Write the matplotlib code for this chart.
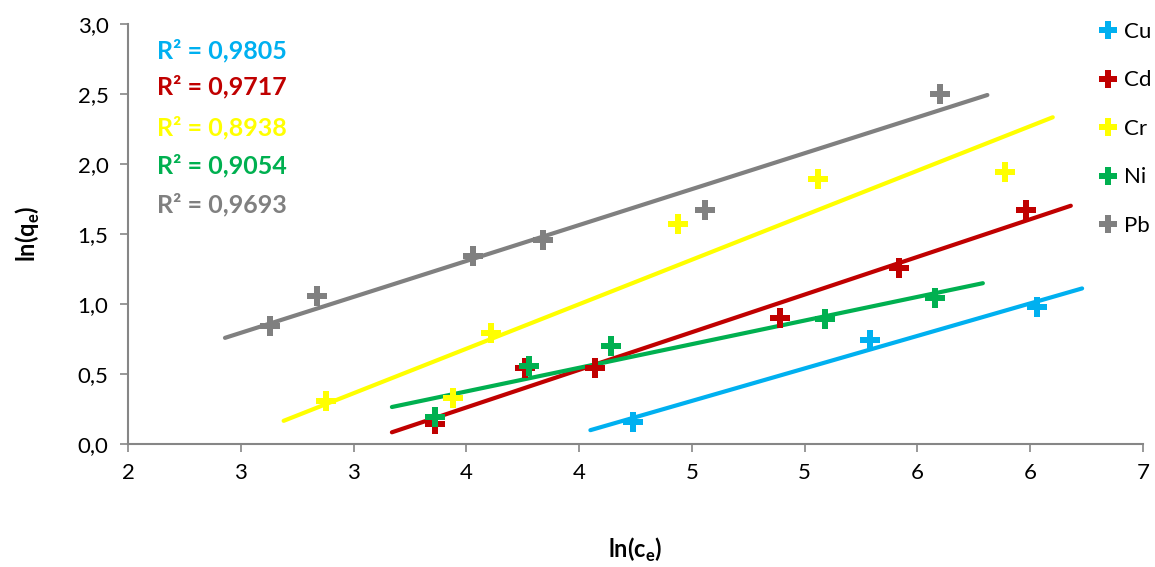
import numpy as np
import matplotlib.pyplot as plt
from matplotlib.ticker import FixedLocator, FuncFormatter

plt.rcParams['font.family'] = ['Lato', 'DejaVu Sans']

metals = ['Cu', 'Cd', 'Cr', 'Ni', 'Pb']
colors = ['#00B0F0', '#C00000', '#FFFF00', '#00B050', '#808080']
r2_labels = ['0,9805', '0,9717', '0,8938', '0,9054', '0,9693']

# ln(ce), ln(qe)
cu_x = [4.24, 5.29, 6.03]
cu_y = [0.16, 0.74, 0.98]
cd_x = [3.36, 3.76, 4.07, 4.89, 5.42, 5.98]
cd_y = [0.14, 0.54, 0.54, 0.90, 1.26, 1.67]
cr_x = [2.88, 3.44, 3.61, 4.44, 5.06, 5.89]
cr_y = [0.31, 0.33, 0.79, 1.57, 1.89, 1.94]
ni_x = [3.36, 3.78, 4.14, 5.09, 5.58]
ni_y = [0.19, 0.56, 0.70, 0.89, 1.04]
pb_x = [2.63, 2.84, 3.53, 3.84, 4.56, 5.60]
pb_y = [0.84, 1.06, 1.34, 1.46, 1.67, 2.50]

# trendline extent (forecast forward/backward as in the original)
line_start = [4.05, 3.17, 2.69, 3.17, 2.43]
line_end = [6.23, 6.18, 6.10, 5.79, 5.81]

xs = [cu_x, cd_x, cr_x, ni_x, pb_x]
ys = [cu_y, cd_y, cr_y, ni_y, pb_y]

fig = plt.figure(figsize=(11.55, 5.67), dpi=100)
ax = fig.add_axes([128 / 1155, 1 - 444 / 567, (1143 - 128) / 1155, (444 - 24) / 567])

for name, c, x, y, x0, x1 in zip(metals, colors, xs, ys, line_start, line_end):
    k, b = np.polyfit(x, y, 1)
    lx = np.array([x0, x1])
    ax.plot(lx, k * lx + b, color=c, lw=3, solid_capstyle='round', zorder=2)
    ax.plot(x, y, ls='none', marker='P', ms=15, color=c, mew=0, label=name, zorder=3)

ax.set_xlim(2, 6.5)
ax.set_ylim(0, 3)
ax.xaxis.set_major_locator(FixedLocator(np.arange(2, 6.51, 0.5)))
ax.yaxis.set_major_locator(FixedLocator(np.arange(0, 3.01, 0.5)))
# Excel-style rounding of half values (2.5 -> 3)
ax.xaxis.set_major_formatter(FuncFormatter(lambda v, p: str(int(np.floor(v + 0.5)))))
ax.yaxis.set_major_formatter(FuncFormatter(lambda v, p: f'{v:.1f}'.replace('.', ',')))

for s in ['top', 'right']:
    ax.spines[s].set_visible(False)
for s in ['left', 'bottom']:
    ax.spines[s].set_color('#868686')
    ax.spines[s].set_linewidth(1.5)
ax.tick_params(axis='both', direction='out', length=6, width=1.2, color='#868686',
               labelsize=16, pad=8)

ax.set_xlabel('ln(c$_\\mathregular{e}$)', fontsize=17, fontweight='bold', labelpad=38)
ax.set_ylabel('ln(q$_\\mathregular{e}$)', fontsize=17, fontweight='bold', labelpad=26)

r2_y = [2.81, 2.55, 2.26, 1.99, 1.71]
for c, lab, yy in zip(colors, r2_labels, r2_y):
    ax.text(2.13, yy, 'R² = ' + lab, color=c, fontsize=18, fontweight='bold', va='center')

leg = ax.legend(loc='upper left', bbox_to_anchor=(1097 / 1155, 1 - 22 / 567),
                bbox_transform=fig.transFigure, frameon=False, fontsize=16,
                borderpad=0, borderaxespad=0, labelspacing=1.28,
                handletextpad=0.2, handlelength=1.0, markerscale=0.85)

fig.savefig('out.png', dpi=100)
